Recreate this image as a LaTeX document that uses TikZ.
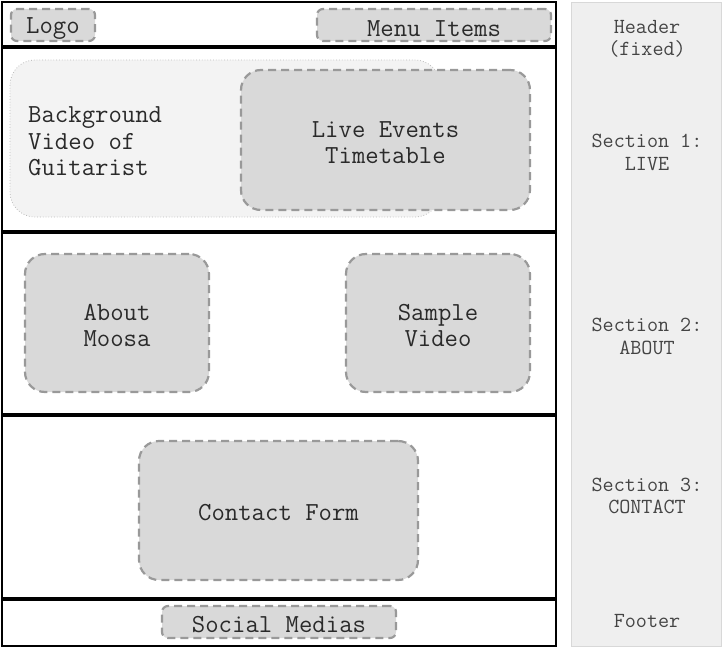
\documentclass[tikz,border=0pt]{standalone}
\definecolor{dashgray}{HTML}{999999}
\definecolor{compfill}{HTML}{D9D9D9}
\definecolor{bgfill}{HTML}{F3F3F3}
\definecolor{dotgray}{HTML}{BBBBBB}
\definecolor{sidefill}{HTML}{EFEFEF}
\definecolor{sideline}{HTML}{D8D8D8}
\definecolor{txt}{HTML}{2A2A2A}
\definecolor{sidetxt}{HTML}{444444}
\begin{document}
\begin{tikzpicture}[x=1pt,y=-1pt,
  comp/.style={draw=dashgray, fill=compfill, line width=2.2pt, dash pattern=on 8pt off 5pt,
    rounded corners=#1, inner sep=0pt},
  ctext/.style={text=txt, align=center, inner sep=0pt,
    font=\ttfamily\fontsize{26}{26.5}\selectfont},
  bgbox/.style={draw=dotgray, fill=bgfill, line width=0.8pt, dotted, rounded corners=25pt},
  sidelabel/.style={text=sidetxt, align=center, font=\ttfamily\fontsize{21.5}{22.5}\selectfont},
  sep/.style={line width=3.5pt, black},
  frame/.style={line width=2pt, black}
]
\useasboundingbox (0,0) rectangle (723,650);
% side panel
\draw[fill=sidefill, draw=sideline, line width=1pt] (571,3) rectangle (721,646);
\node[sidelabel] (hdr) at (647,39) {Header\\(fixed)};
\node[sidelabel] (s1) at (647,152.5) {Section 1:\\LIVE};
\node[sidelabel] (s2) at (647,336.5) {Section 2:\\ABOUT};
\node[sidelabel] (s3) at (647,496) {Section 3:\\CONTACT};
\node[sidelabel] (ftr) at (647,621) {Footer};
% main frame
\draw[frame] (2,2) rectangle (556,646);
\draw[sep] (2,47) -- (556,47);
\draw[sep] (2,232) -- (556,232);
\draw[sep] (2,415) -- (556,415);
\draw[sep] (2,599) -- (556,599);
% header
\node[comp=6pt, minimum width=84pt, minimum height=32pt] (logo) at (53,25) {};
\node[ctext] (logoT) at (53,29) {Logo};
\node[comp=6pt, minimum width=234pt, minimum height=32pt] (menu) at (434,25) {};
\node[ctext] (menuT) at (434,28.5) {Menu Items};
% live section
\draw[bgbox] (10,60) rectangle (440,217);
\node[ctext, anchor=west, align=left] (bgvid) at (28,141.5) {Background\\Video of\\Guitarist};
\node[comp=20pt, minimum width=289pt, minimum height=140pt] (live) at (385.5,140) {};
\node[ctext] (liveT) at (385.5,142.5) {Live Events\\Timetable};
% about section
\node[comp=20pt, minimum width=184pt, minimum height=138pt] (about) at (117,323) {};
\node[ctext] (aboutT) at (117,325.5) {About\\Moosa};
\node[comp=20pt, minimum width=184pt, minimum height=138pt] (sample) at (438,323) {};
\node[ctext] (sampleT) at (438,325.5) {Sample\\Video};
% contact section
\node[comp=20pt, minimum width=279pt, minimum height=139pt] (contact) at (278.5,510.5) {};
\node[ctext] (contactT) at (278.5,513) {Contact Form};
% footer
\node[comp=6pt, minimum width=234pt, minimum height=32pt] (social) at (279,622) {};
\node[ctext] (socialT) at (279,625) {Social Medias};
\end{tikzpicture}
\end{document}
